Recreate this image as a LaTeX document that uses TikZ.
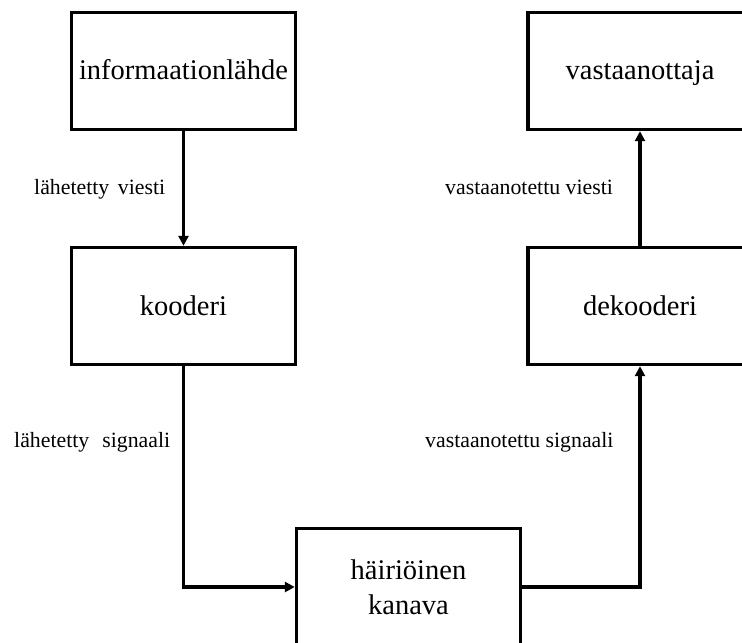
\documentclass[tikz,border=0pt]{standalone}
\usepackage{fontspec}
\setmainfont{Liberation Serif}
\usetikzlibrary{arrows.meta}
\begin{document}
\begin{tikzpicture}[x=1bp,y=-1bp,
  blk/.style={draw=black, line width=3.4bp, minimum width=224bp, minimum height=117bp,
    inner sep=0pt, font=\fontsize{28.5bp}{35bp}\selectfont},
  onel/.style={text height=18bp, text depth=0bp},
  conn/.style={line width=3.2bp, -{Triangle[length=10bp,width=10bp]}},
  lbl/.style={font=\fontsize{21.8bp}{26bp}\selectfont, inner sep=0pt, anchor=base west}]
\useasboundingbox (0,0) rectangle (742,643);
\node[blk,onel] (src) at (183.5,71) {informaationlähde};
\node[blk,onel] (rcv) at (640,71) {vastaanottaja};
\node[blk,onel] (enc) at (183.5,306) {kooderi};
\node[blk,onel] (dec) at (640,306) {dekooderi};
\node[blk,align=center] (chn) at (408.5,587) {häiriöinen\\kanava};
\draw[conn] (src.south) -- (enc.north);
\draw[conn] (enc.south) |- (chn.west);
\draw[conn] (chn.east) -| (dec.south);
\draw[conn] (dec.north) -- (rcv.south);
\node[lbl] (l1) at (34,195) {lähetetty\hspace{0.4em}viesti};
\node[lbl] (l2) at (14,447) {lähetetty\hspace{0.6em}signaali};
\node[lbl] (l3) at (445,195) {vastaanotettu viesti};
\node[lbl] (l4) at (425,447) {vastaanotettu signaali};
\end{tikzpicture}
\end{document}
